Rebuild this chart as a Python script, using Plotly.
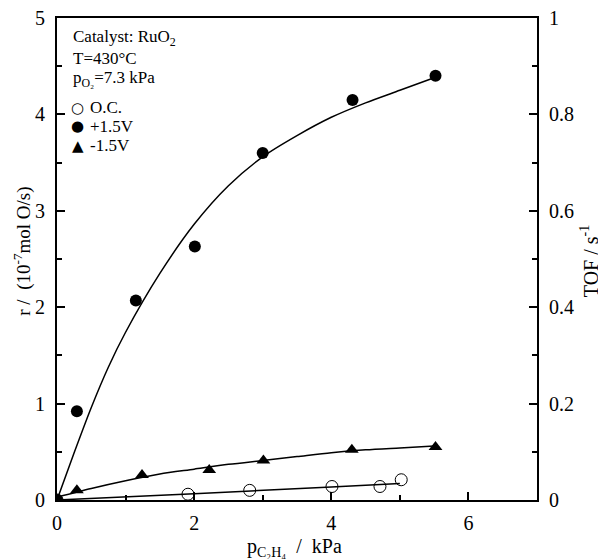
import plotly.graph_objects as go

# ---- data ----
p_plus = [0.0, 0.29, 1.15, 2.01, 3.0, 4.31, 5.52]
r_plus = [0.0, 0.92, 2.07, 2.63, 3.60, 4.15, 4.40]
fit_plus_x = [0, 0.25, 0.5, 0.75, 1.0, 1.5, 2.0, 2.5, 3.0, 3.5, 4.0, 4.5, 5.0, 5.5]
fit_plus_y = [0, 0.49, 0.96, 1.38, 1.74, 2.35, 2.86, 3.26, 3.56, 3.78, 3.97, 4.12, 4.25, 4.38]

p_minus = [0.0, 0.29, 1.24, 2.22, 3.01, 4.30, 5.52]
r_minus = [0.0, 0.10, 0.26, 0.31, 0.41, 0.52, 0.55]
fit_minus_x = [0, 0.5, 1.0, 1.5, 2.0, 2.5, 3.0, 3.5, 4.0, 4.5, 5.0, 5.5]
fit_minus_y = [0.03, 0.12, 0.20, 0.27, 0.32, 0.37, 0.41, 0.45, 0.49, 0.52, 0.54, 0.56]

p_oc = [0.0, 1.91, 2.81, 4.01, 4.71, 5.02]
r_oc = [0.0, 0.06, 0.10, 0.14, 0.14, 0.21]
fit_oc_x = [0, 2.0, 4.0, 5.0]
fit_oc_y = [0, 0.065, 0.135, 0.17]

x_ticks = [0, 2, 4, 6]
y_ticks = [0, 1, 2, 3, 4, 5]
y2_ticks = [0, 0.2, 0.4, 0.6, 0.8, 1]
y2_labels = ["0", "0.2", "0.4", "0.6", "0.8", "1"]

legend_names = ["O.C.", "+1.5V", "-1.5V"]
legend_symbols = ["○", "●", "▲"]
info_lines = ["Catalyst: RuO<sub>2</sub>", "T=430°C", "p<sub>O₂</sub>=7.3 kPa"]

FONT = "Liberation Serif"
fig = go.Figure()

line_style = dict(color="black", width=1.5)
for fx, fy in [(fit_plus_x, fit_plus_y), (fit_minus_x, fit_minus_y), (fit_oc_x, fit_oc_y)]:
    fig.add_trace(go.Scatter(x=fx, y=fy, mode="lines",
                             line=dict(line_style, shape="spline", smoothing=0.8),
                             showlegend=False, hoverinfo="skip"))

fig.add_trace(go.Scatter(x=p_oc, y=r_oc, mode="markers", name=legend_names[0], showlegend=False,
                         marker=dict(symbol="circle-open", size=12, color="black", line=dict(width=1))))
fig.add_trace(go.Scatter(x=p_plus, y=r_plus, mode="markers", name=legend_names[1], showlegend=False,
                         marker=dict(symbol="circle", size=12, color="black")))
fig.add_trace(go.Scatter(x=p_minus, y=r_minus, mode="markers", name=legend_names[2], showlegend=False,
                         marker=dict(symbol="triangle-up", size=12, color="black")))
# invisible trace to create right axis
fig.add_trace(go.Scatter(x=[0], y=[0], yaxis="y2", mode="markers", marker=dict(opacity=0),
                         showlegend=False, hoverinfo="skip"))

axis_common = dict(showgrid=False, zeroline=False, linecolor="black", linewidth=2,
                   ticks="inside", tickwidth=2, tickcolor="black", ticklen=8, automargin=False,
                   ticklabeloverflow="allow",
                   tickfont=dict(family=FONT, size=20, color="black"))
minor_common = dict(ticks="inside", ticklen=5, tickwidth=2, tickcolor="black")

annotations = []
# axis titles
annotations.append(dict(xref="paper", yref="paper", x=0.495, y=-0.0685, xanchor="center", yanchor="top",
                        showarrow=False, font=dict(family=FONT, size=20, color="black"),
                        text="p<sub>C₂H₄</sub>  /  kPa"))
annotations.append(dict(xref="paper", yref="paper", x=-0.072, y=0.516, xanchor="center", yanchor="middle",
                        textangle=-90, showarrow=False, font=dict(family=FONT, size=19, color="black"),
                        text="r /  (10<sup>-7</sup>mol O/s)"))
annotations.append(dict(xref="paper", yref="paper", x=1.11, y=0.495, xanchor="center", yanchor="middle",
                        textangle=-90, showarrow=False, font=dict(family=FONT, size=20, color="black"),
                        text="TOF / s<sup>-1</sup>"))
# info text block
for txt, yy in zip(info_lines, [0.9595, 0.916, 0.874]):
    annotations.append(dict(xref="paper", yref="paper", x=0.029, y=yy, xanchor="left", yanchor="middle",
                            showarrow=False, font=dict(family=FONT, size=17, color="black"), text=txt))
# legend
for sym, name, yy in zip(legend_symbols, legend_names, [0.814, 0.775, 0.735]):
    annotations.append(dict(xref="paper", yref="paper", x=0.0428, y=yy, xanchor="center", yanchor="middle",
                            showarrow=False, font=dict(family="DejaVu Sans", size=15, color="black"), text=sym))
    annotations.append(dict(xref="paper", yref="paper", x=0.064, y=yy, xanchor="left", yanchor="middle",
                            showarrow=False, font=dict(family=FONT, size=17, color="black"), text=name))

# the page body adds an 8px offset, so the figure is shrunk and margins shifted by 8px
fig.update_layout(
    width=598, height=551,
    margin=dict(l=49, r=69, t=10, b=59),
    plot_bgcolor="white", paper_bgcolor="white",
    font=dict(family=FONT, color="black"),
    showlegend=False,
    xaxis=dict(axis_common, range=[0, 7], tickvals=x_ticks, mirror=True, ticklabelstandoff=4,
               minor=dict(minor_common, dtick=1)),
    yaxis=dict(axis_common, range=[0, 5], tickvals=y_ticks, ticklabelstandoff=6,
               minor=dict(minor_common, dtick=0.5)),
    yaxis2=dict(axis_common, range=[0, 1], tickvals=y2_ticks, ticktext=y2_labels,
                overlaying="y", side="right", showline=True, ticklabelstandoff=6,
                minor=dict(minor_common, dtick=0.1)),
    annotations=annotations,
)

fig.write_html("out.html")
